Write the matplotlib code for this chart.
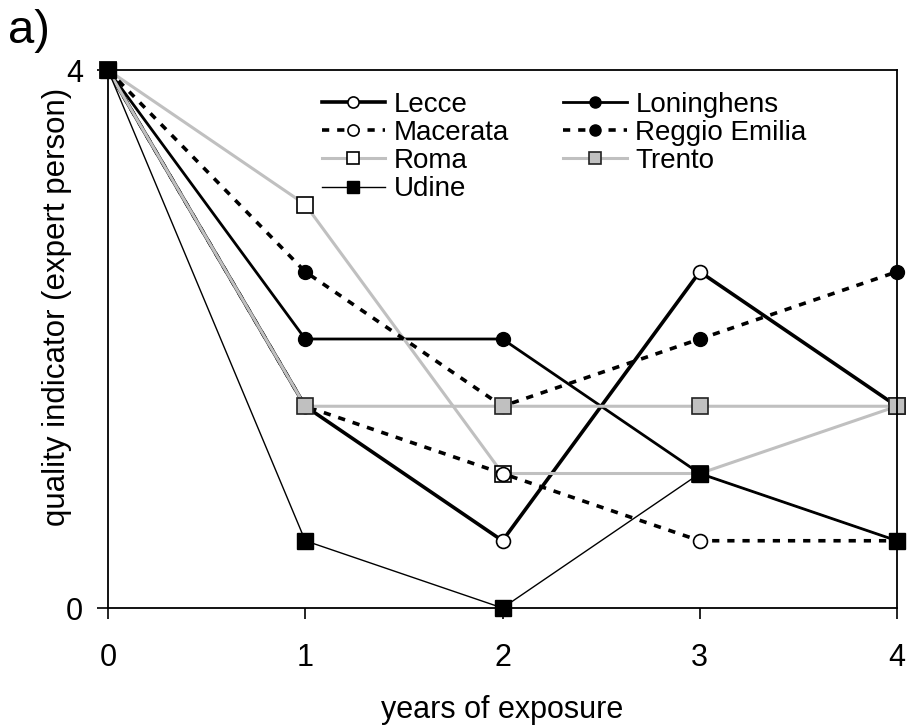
import matplotlib
matplotlib.use("Agg")
import matplotlib.pyplot as plt

plt.rcParams['font.family'] = ['Liberation Sans', 'DejaVu Sans']

years = [0, 1, 2, 3, 4]
lecce = [4, 1.5, 0.5, 2.5, 1.5]
loninghens = [4, 2, 2, 1, 0.5]
macerata = [4, 1.5, 1, 0.5, 0.5]
reggio_emilia = [4, 2.5, 1.5, 2, 2.5]
roma = [4, 3, 1, 1, 1.5]
trento = [4, 1.5, 1.5, 1.5, 1.5]
udine = [4, 0.5, 0, 1, 0.5]

fig = plt.figure(figsize=(9.1, 7.28), dpi=100)
ax = fig.add_axes([108 / 910, 1 - 608 / 728, (897 - 108) / 910, (608 - 70) / 728])

gray = '#c0c0c0'
ms_c = 10
ms_s = 11
dash = (0, (2.0, 2.2))

h = {}
h['Lecce'], = ax.plot(years, lecce, color='black', lw=2.6, marker='o', ms=ms_c,
                      mfc='white', mec='black', mew=1.2, clip_on=False)
h['Loninghens'], = ax.plot(years, loninghens, color='black', lw=2.0, marker='o', ms=ms_c,
                           mfc='black', mec='black', clip_on=False)
h['Roma'], = ax.plot(years, roma, color=gray, lw=2.2, marker='s', ms=ms_s,
                     mfc='white', mec='black', mew=1.2, clip_on=False)
h['Macerata'], = ax.plot(years, macerata, color='black', lw=2.6, ls=dash, marker='o', ms=ms_c,
                         mfc='white', mec='black', mew=1.2, clip_on=False)
h['Reggio Emilia'], = ax.plot(years, reggio_emilia, color='black', lw=2.6, ls=dash, marker='o',
                              ms=ms_c, mfc='black', mec='black', clip_on=False)
h['Trento'], = ax.plot(years, trento, color=gray, lw=2.2, marker='s', ms=ms_s,
                       mfc=gray, mec='#222222', mew=1.2, clip_on=False)
h['Udine'], = ax.plot(years, udine, color='black', lw=1.0, marker='s', ms=ms_s,
                      mfc='black', mec='black', clip_on=False)

ax.set_xlim(0, 4)
ax.set_ylim(0, 4)
ax.set_xticks(years)
ax.set_yticks([0, 4])
ax.tick_params(direction='out', length=8, width=1.2, labelsize=22)
ax.tick_params(axis='x', pad=17)
ax.tick_params(axis='y', pad=10)
for s in ax.spines.values():
    s.set_linewidth(1.3)

ax.set_xlabel('years of exposure', fontsize=22, labelpad=16)
ax.set_ylabel('quality indicator (expert person)', fontsize=22.5)
ax.yaxis.set_label_coords(-0.046, 0.56)

order = ['Lecce', 'Macerata', 'Roma', 'Udine', 'Loninghens', 'Reggio Emilia', 'Trento']
ax.legend([h[k] for k in order], order, ncol=2, frameon=False, fontsize=20,
          loc='upper left', bbox_to_anchor=(0.246, 0.996), handlelength=2.3,
          handletextpad=0.3, columnspacing=1.95, labelspacing=0.08,
          borderaxespad=0.3, markerscale=0.8)

fig.text(8 / 910, 1 - 31 / 728, 'a)', fontsize=34, va='center', ha='left')

fig.savefig('out.png', dpi=100)
